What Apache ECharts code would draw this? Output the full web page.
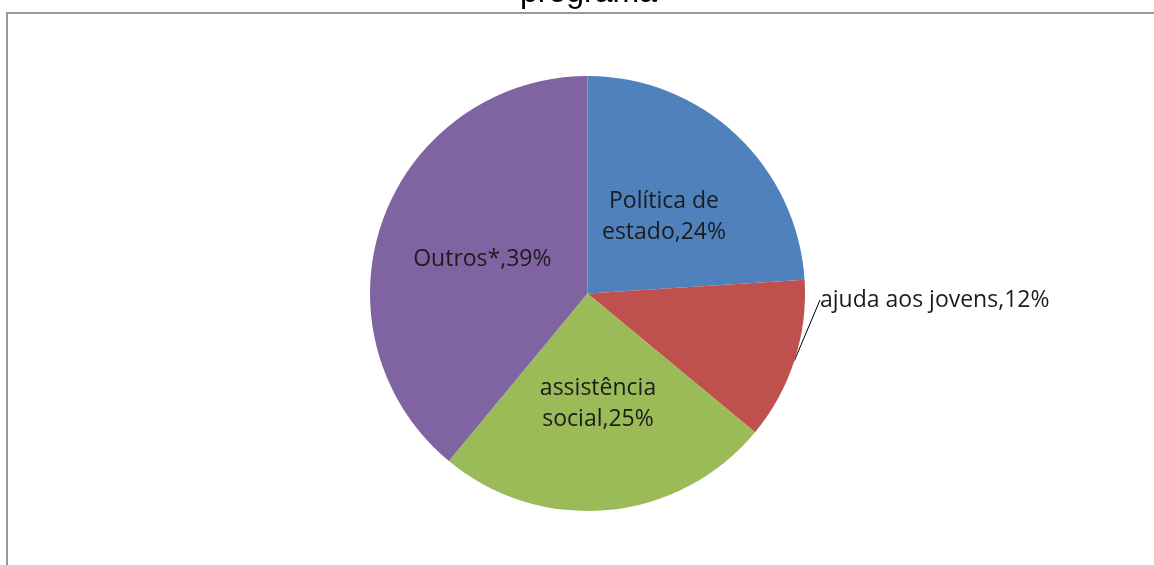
<!DOCTYPE html>
<html>
<head>
<meta charset="utf-8">
<script src="https://cdn.jsdelivr.net/npm/echarts@6/dist/echarts.min.js"></script>
<style>html,body{margin:0;padding:0;background:#fff;}#c{width:1154px;height:565px;}</style>
</head>
<body>
<div id="c"></div>
<script>
const titleText = 'programa';
const categories = ['Política de estado', 'ajuda aos jovens', 'assistência social', 'Outros*'];
const labelTexts = ['Política de\nestado,24%', 'ajuda aos jovens,12%', 'assistência\nsocial,25%', 'Outros*,39%'];
const values = [24, 12, 25, 39];
const colors = ['#4F81BD', '#C0504D', '#9BBB59', '#8064A2'];
const labelOffsets = [[0, 5], [0, 0], [0, -1], [0, 4]];

const chart = echarts.init(document.getElementById('c'), null, {renderer: 'canvas'});
const labelFont = {fontFamily: 'Open Sans', fontSize: 23, color: '#1c1c1c', lineHeight: 31};
const data = categories.map((name, i) => {
  const d = {name: name, value: values[i], itemStyle: {color: colors[i]},
    label: Object.assign({show: true, position: 'inside', formatter: labelTexts[i], offset: labelOffsets[i]}, labelFont)};
  if (i === 1) {
    d.label.position = 'outside';
    d.labelLine = {show: true, length: 10, length2: 0, lineStyle: {color: '#000', width: 1}};
  }
  return d;
});
chart.setOption({
  animation: false,
  backgroundColor: '#fff',
  title: {text: titleText, left: 515, top: -28,
    textStyle: {fontFamily: 'Liberation Sans', fontSize: 32, fontWeight: 'normal', color: '#000'}},
  graphic: [{type: 'rect', shape: {x: 7, y: 13, width: 1300, height: 700},
    style: {fill: 'none', stroke: '#999', lineWidth: 2}, z: 100}],
  series: [{
    type: 'pie',
    center: [587.5, 293.5],
    radius: 217.5,
    startAngle: 90,
    clockwise: true,
    label: {show: true},
    labelLayout: function (p) {
      if (p.dataIndex === 1) return {x: 820, y: 300, align: 'left', verticalAlign: 'middle'};
    },
    emphasis: {disabled: true},
    data: data
  }]
});
</script>
</body>
</html>
